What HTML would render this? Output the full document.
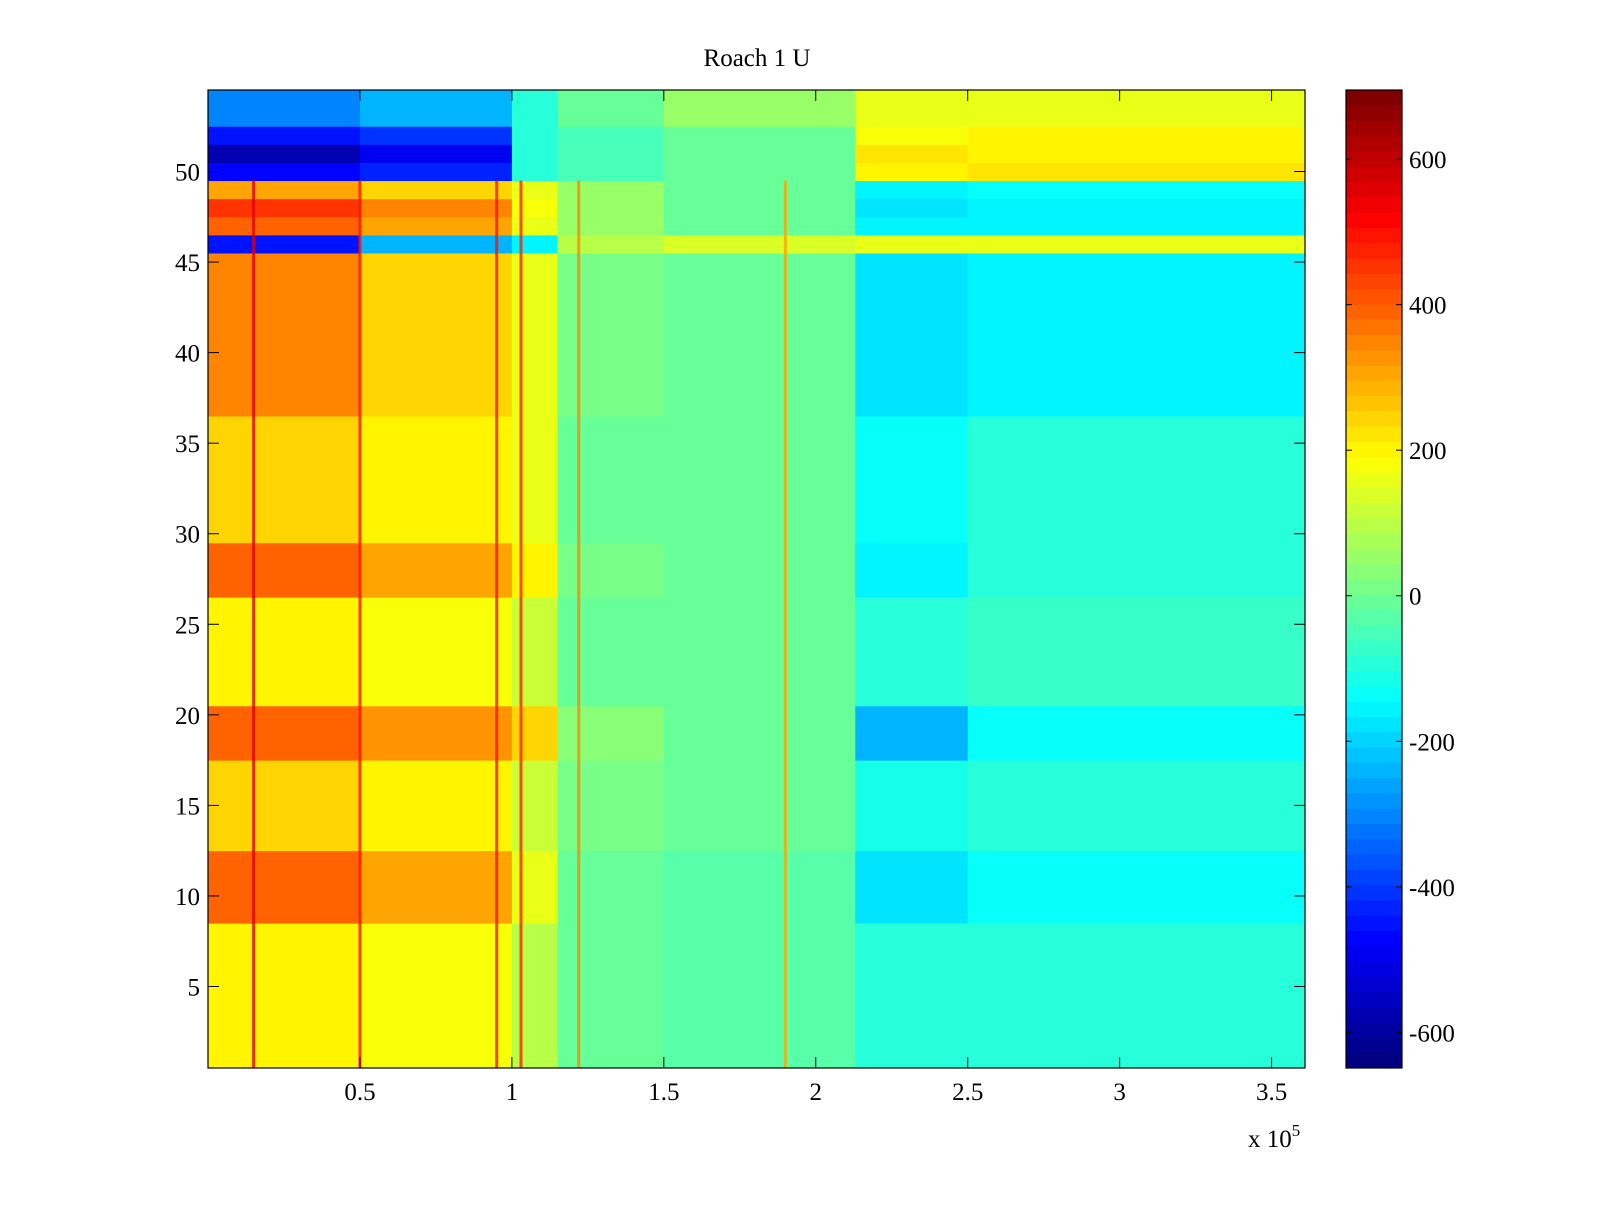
<!DOCTYPE html>
<html><head><meta charset="utf-8"><style>
body{margin:0;background:#fff;}
svg text{font-family:"Liberation Serif",serif;font-size:25px;fill:#000;}
</style></head><body>
<svg id="fig" width="1600" height="1200" xmlns="http://www.w3.org/2000/svg">
<rect width="1600" height="1200" fill="#fff"/>
<text x="757" y="66" text-anchor="middle">Roach 1 U</text>
<g id="heat"></g>
<g id="axes"></g>
<g id="cbar"></g>
</svg>
<script>
// segment boundaries along x (units of 1e5)
const segEdges = [0, 0.5, 1.0, 1.15, 1.5, 2.13, 2.5, 3.61];
// row groups: [firstRow, lastRow, values per segment]
const rowStart = [1, 9, 13, 18, 21, 27, 30, 37, 46, 47, 48, 49, 50, 51, 52, 53];
const rowEnd   = [8, 12, 17, 20, 26, 29, 36, 45, 46, 47, 48, 49, 50, 51, 52, 54];
const rowVals = [
 [200,170,100,0,-30,-100,-100],
 [400,300,150,0,-30,-170,-130],
 [250,200,120,20,0,-120,-100],
 [380,320,250,30,0,-250,-130],
 [200,170,120,0,0,-100,-80],
 [380,300,200,20,0,-150,-100],
 [250,200,150,0,0,-130,-100],
 [350,250,150,20,0,-180,-150],
 [-450,-250,-150,100,130,150,150],
 [400,300,150,50,0,-150,-150],
 [450,350,180,50,0,-170,-150],
 [300,250,150,50,0,-150,-130],
 [-480,-420,-100,-50,0,200,220],
 [-580,-500,-100,-50,0,220,200],
 [-450,-400,-100,-50,0,180,200],
 [-300,-250,-100,0,50,150,150]
];
// vertical streaks (x in 1e5, value)
const streakX = [0.15, 0.5, 0.95, 1.03, 1.22, 1.9];
const streakV = [550, 500, 500, 480, 350, 300];
const xTicks = [0.5,1,1.5,2,2.5,3,3.5];
const yTicks = [5,10,15,20,25,30,35,40,45,50];
const cTicks = [-600,-400,-200,0,200,400,600];

const PX0=208, PX1=1305, PY0=90, PY1=1068;
const XMAX=3.61, YMIN=0.5, YMAX=54.5, CMIN=-649, CMAX=695;
const xs = v => PX0 + v/XMAX*(PX1-PX0);
const ys = v => PY1 - (v-YMIN)/(YMAX-YMIN)*(PY1-PY0);
function jet(v){
  let t=(v-CMIN)/(CMAX-CMIN); t=Math.max(0,Math.min(1,t));
  t=Math.floor(t*64)/63; t=Math.min(1,t);
  const f=x=>Math.max(0,Math.min(1,x));
  const r=f(1.5-Math.abs(4*t-3)), g=f(1.5-Math.abs(4*t-2)), b=f(1.5-Math.abs(4*t-1));
  return `rgb(${Math.round(r*255)},${Math.round(g*255)},${Math.round(b*255)})`;
}
const NS='http://www.w3.org/2000/svg';
function mk(tag,attrs,parent){const e=document.createElementNS(NS,tag);for(const k in attrs)e.setAttribute(k,attrs[k]);parent.appendChild(e);return e;}
const heat=document.getElementById('heat');
for(let g=0;g<rowStart.length;g++){
  for(let s=0;s<segEdges.length-1;s++){
    const x0=xs(segEdges[s]),x1=xs(segEdges[s+1]);
    const y0=ys(rowEnd[g]+0.5),y1=ys(rowStart[g]-0.5);
    const r=mk('rect',{x:x0,y:y0,width:Math.min(x1,PX1)-x0+0.5,height:y1-y0+0.5,fill:jet(rowVals[g][s])},heat);
    
    
  }
}
for(let i=0;i<streakX.length;i++){
  const x=xs(streakX[i]);
  const l=mk('rect',{x:x-1.5,y:ys(49.5),width:3,height:ys(0.5)-ys(49.5),fill:jet(streakV[i]),opacity:0.8},heat);
  
  
}
const axes=document.getElementById('axes');
mk('rect',{x:PX0,y:PY0,width:PX1-PX0,height:PY1-PY0,fill:'none',stroke:'#000','stroke-width':1.2},axes);
xTicks.forEach(t=>{const x=xs(t);
  mk('line',{x1:x,y1:PY1,x2:x,y2:PY1-11,stroke:'#000'},axes);
  mk('line',{x1:x,y1:PY0,x2:x,y2:PY0+11,stroke:'#000'},axes);
  const tx=mk('text',{x:x,y:1100,'text-anchor':'middle'},axes);tx.textContent=t;
  
  
});
yTicks.forEach(t=>{const y=ys(t);
  mk('line',{x1:PX0,y1:y,x2:PX0+11,y2:y,stroke:'#000'},axes);
  mk('line',{x1:PX1,y1:y,x2:PX1-11,y2:y,stroke:'#000'},axes);
  const tx=mk('text',{x:200,y:y+9,'text-anchor':'end'},axes);tx.textContent=t;
  
  
});
const ex=mk('text',{x:1248,y:1147},axes);ex.innerHTML='x 10<tspan dy="-11" font-size="17">5</tspan>';


const cb=document.getElementById('cbar');
const CX0=1346,CX1=1402;
const cy=v=>PY1-(v-CMIN)/(CMAX-CMIN)*(PY1-PY0);
for(let i=0;i<64;i++){
  const y0=PY1-(i+1)*(PY1-PY0)/64, h=(PY1-PY0)/64;
  const v=CMIN+(i+0.5)/64*(CMAX-CMIN);
  const r=mk('rect',{x:CX0,y:y0,width:CX1-CX0,height:h+0.5,fill:jet(v)},cb);
  
  
}
mk('rect',{x:CX0,y:PY0,width:CX1-CX0,height:PY1-PY0,fill:'none',stroke:'#000','stroke-width':1.2},cb);
cTicks.forEach(t=>{const y=cy(t);
  mk('line',{x1:CX0,y1:y,x2:CX0+6,y2:y,stroke:'#000'},cb);
  mk('line',{x1:CX1,y1:y,x2:CX1-6,y2:y,stroke:'#000'},cb);
  const tx=mk('text',{x:1409,y:y+9},cb);tx.textContent=t;
  
  
});
</script>
</body></html>
